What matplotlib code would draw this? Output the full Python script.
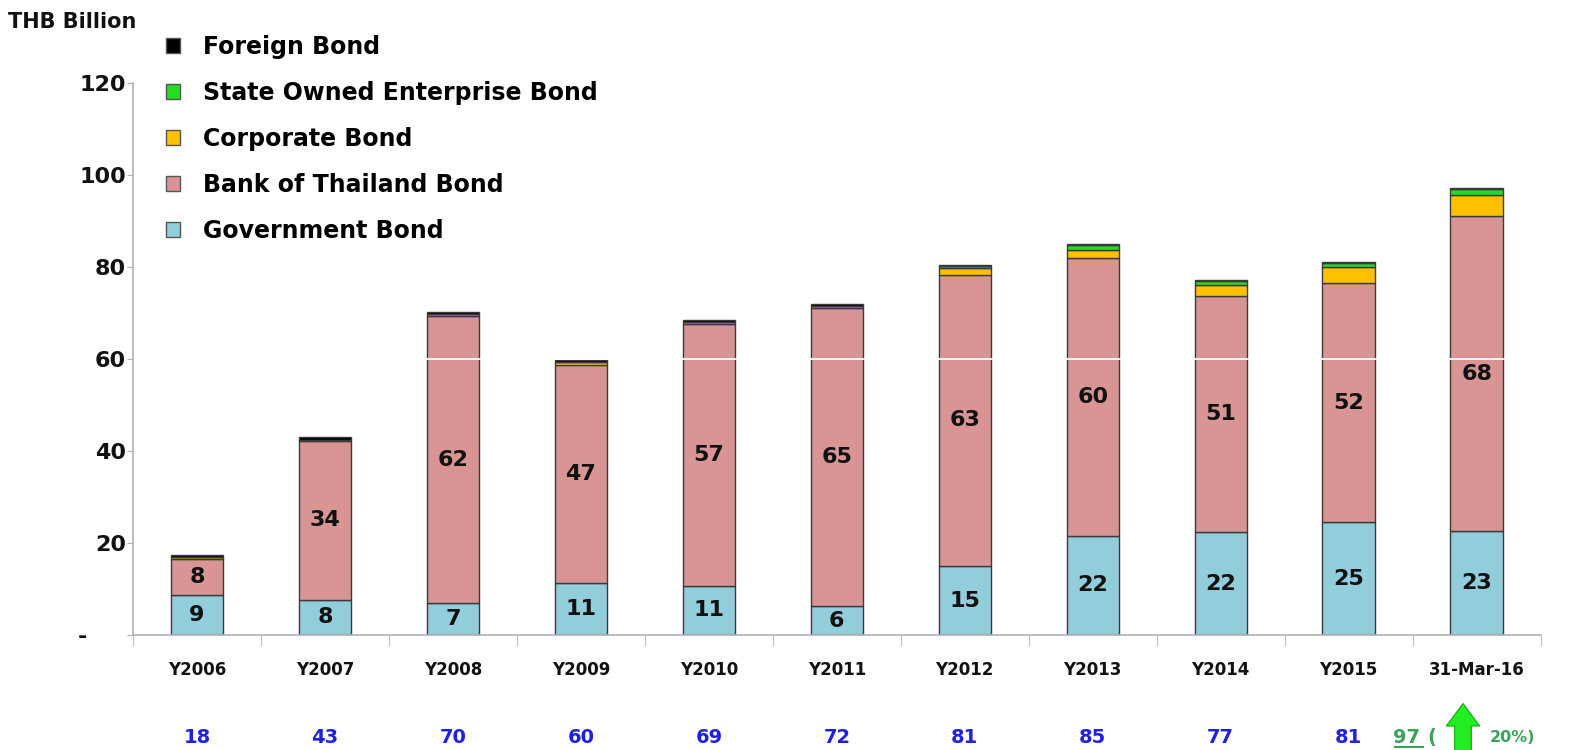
import numpy as np
import matplotlib
matplotlib.use("Agg")
import matplotlib.pyplot as plt
from matplotlib.patches import FancyArrow, Patch
from matplotlib.lines import Line2D

# Data (THB Billion)
categories = ["Y2006", "Y2007", "Y2008", "Y2009", "Y2010", "Y2011",
              "Y2012", "Y2013", "Y2014", "Y2015", "31-Mar-16"]
government = [8.6, 7.7, 7.0, 11.3, 10.7, 6.3, 15.0, 21.6, 22.4, 24.5, 22.7]
bank_of_thailand = [8.0, 34.4, 62.3, 47.4, 57.0, 64.8, 63.3, 60.4, 51.2, 52.0, 68.3]
corporate = [0.4, 0.4, 0.5, 0.6, 0.4, 0.4, 1.4, 1.6, 2.6, 3.4, 4.6]
state_owned = [0.0, 0.0, 0.0, 0.0, 0.0, 0.0, 0.5, 1.2, 0.7, 0.9, 1.3]
foreign = [0.4, 0.5, 0.4, 0.4, 0.4, 0.4, 0.3, 0.3, 0.3, 0.2, 0.3]
gov_labels = ["9", "8", "7", "11", "11", "6", "15", "22", "22", "25", "23"]
bot_labels = ["8", "34", "62", "47", "57", "65", "63", "60", "51", "52", "68"]
total_labels = ["18", "43", "70", "60", "69", "72", "81", "85", "77", "81", "97"]
growth_label = "20%)"

series = [
    ("Government Bond", government, "#92cddc"),
    ("Bank of Thailand Bond", bank_of_thailand, "#d99594"),
    ("Corporate Bond", corporate, "#ffc000"),
    ("State Owned Enterprise Bond", state_owned, "#22dd22"),
    ("Foreign Bond", foreign, "#000000"),
]

fig = plt.figure(figsize=(15.87, 7.5), dpi=100)
ax = fig.add_axes([0.0838, 0.1533, 0.887, 0.736])

x = np.arange(len(categories))
bottom = np.zeros(len(categories))
handles = []
for name, vals, color in series:
    vals = np.array(vals)
    ax.bar(x, vals, width=0.41, bottom=bottom, color=color,
           edgecolor="#3a3a3a", linewidth=1.0, zorder=2)
    handles.append(Patch(facecolor=color, edgecolor="#555555", label=name))
    bottom = bottom + vals

# white line across the bars at 60 (as in the source image)
ax.axhline(60, xmin=0.01, color="white", lw=1.3, zorder=3)

# segment labels, centred in each segment
gov = np.array(government)
bot = np.array(bank_of_thailand)
for i in range(len(categories)):
    ax.text(x[i], gov[i] / 2, gov_labels[i],
            ha="center", va="center", fontsize=16, fontweight="bold", color="#111111", zorder=4)
    ax.text(x[i], gov[i] + bot[i] / 2, bot_labels[i],
            ha="center", va="center", fontsize=16, fontweight="bold", color="#111111", zorder=4)

ax.set_xlim(-0.5, len(categories) - 0.5)
ax.set_ylim(0, 120)
ax.set_yticks([0, 20, 40, 60, 80, 100, 120])
ax.set_yticklabels(["-     ", "20", "40", "60", "80", "100", "120"])
ax.set_xticks(x)
ax.set_xticklabels(categories)
ax.set_xticks(np.arange(len(categories) + 1) - 0.5, minor=True)
ax.tick_params(axis="x", which="major", length=0, pad=19, labelsize=12)
ax.tick_params(axis="x", which="minor", length=8, color="#b0b0b0", direction="out")
ax.tick_params(axis="y", length=4, color="#b0b0b0", labelsize=16, pad=1)
for lab in ax.get_xticklabels() + ax.get_yticklabels():
    lab.set_fontweight("bold")
    lab.set_color("#111111")

for s in ["top", "right"]:
    ax.spines[s].set_visible(False)
for s in ["left", "bottom"]:
    ax.spines[s].set_color("#b0b0b0")
    ax.spines[s].set_linewidth(1.2)

# totals row
trans = ax.get_xaxis_transform()
for i, t in enumerate(total_labels[:-1]):
    ax.text(x[i], -0.185, t, transform=trans, ha="center", va="center",
            fontsize=14, fontweight="bold", color="#2020e0")
ax.text(x[-1] - 0.55, -0.185, total_labels[-1], transform=trans, ha="center", va="center",
        fontsize=14, fontweight="bold", color="#3aa35a")
ax.text(x[-1] - 0.35, -0.185, "(", transform=trans, ha="center", va="center",
        fontsize=14, fontweight="bold", color="#3aa35a")
ax.text(x[-1] + 0.1, -0.185, growth_label, transform=trans, ha="left", va="center",
        fontsize=11.5, fontweight="bold", color="#3aa35a")
fig.add_artist(Line2D([1395 / 1587, 1423 / 1587], [0.004, 0.004], color="#3aa35a", lw=1.5))
fig.add_artist(FancyArrow(1463 / 1587, -0.02, 0, 0.082, width=0.0105, head_width=0.021,
                          head_length=0.03, length_includes_head=True,
                          facecolor="#22ee22", edgecolor="#11aa11", lw=0.8,
                          transform=fig.transFigure))

fig.text(0.005, 0.97, "THB Billion", fontsize=15, fontweight="bold", color="#111111",
         ha="left", va="center")

fig.legend(handles=handles[::-1], loc="upper left", bbox_to_anchor=(0.091, 0.982),
           frameon=False, handlelength=0.6, handleheight=0.6,
           labelspacing=0.93, handletextpad=1.0, prop={"weight": "bold", "size": 17})

fig.savefig("out.png", dpi=100)
